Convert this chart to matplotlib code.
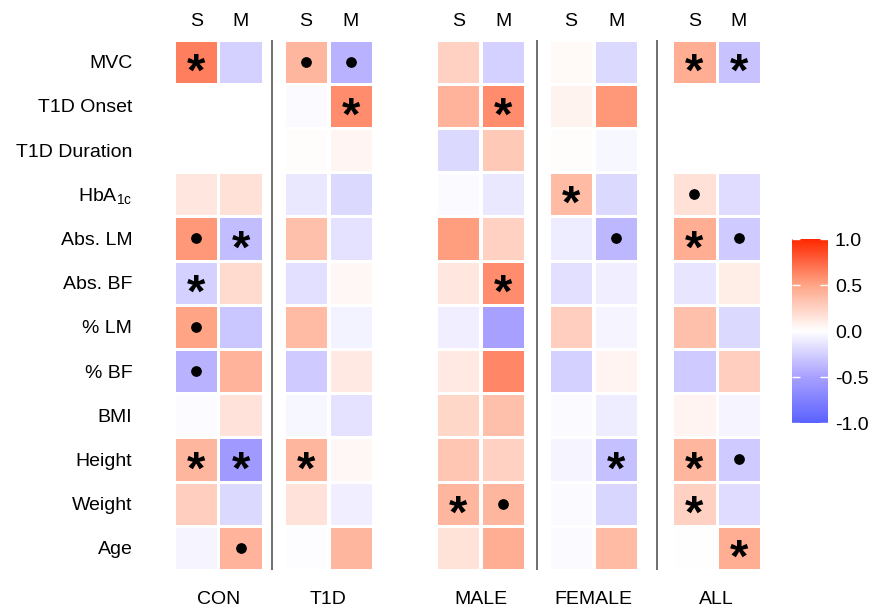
import numpy as np
import matplotlib
matplotlib.use("Agg")
import matplotlib.pyplot as plt
from matplotlib.colors import LinearSegmentedColormap, Normalize

plt.rcParams["font.family"] = ["Liberation Sans", "DejaVu Sans"]

rows = ["MVC", "T1D Onset", "T1D Duration", r"HbA$_{\mathregular{1c}}$", "Abs. LM", "Abs. BF",
        "% LM", "% BF", "BMI", "Height", "Weight", "Age"]
groups = ["CON", "T1D", "MALE", "FEMALE", "ALL"]
subcols = ["S", "M"]
nan = np.nan

# correlation values, columns: CON S/M, T1D S/M, MALE S/M, FEMALE S/M, ALL S/M
values = np.array([
    [0.65, -0.25, 0.40, -0.40, 0.25, -0.25, 0.03, -0.20, 0.45, -0.32],
    [nan, nan, -0.03, 0.60, 0.42, 0.60, 0.07, 0.55, nan, nan],
    [nan, nan, 0.01, 0.05, -0.20, 0.30, 0.01, -0.04, nan, nan],
    [0.14, 0.17, -0.12, -0.20, -0.03, -0.12, 0.38, -0.20, 0.17, -0.18],
    [0.55, -0.35, 0.35, -0.15, 0.53, 0.25, -0.10, -0.38, 0.45, -0.28],
    [-0.25, 0.20, -0.16, 0.04, 0.14, 0.60, -0.17, -0.08, -0.14, 0.10],
    [0.50, -0.30, 0.38, -0.07, -0.08, -0.50, 0.27, -0.05, 0.35, -0.20],
    [-0.40, 0.42, -0.28, 0.12, 0.12, 0.62, -0.25, 0.06, -0.28, 0.27],
    [-0.02, 0.15, -0.04, -0.15, 0.22, 0.35, -0.03, -0.10, 0.06, -0.05],
    [0.40, -0.55, 0.40, 0.04, 0.32, 0.25, -0.05, -0.33, 0.40, -0.28],
    [0.27, -0.20, 0.15, -0.08, 0.40, 0.40, -0.03, -0.22, 0.25, -0.18],
    [-0.05, 0.42, -0.01, 0.40, 0.16, 0.45, -0.03, 0.38, 0.00, 0.45],
])

# significance: "*" p<0.05, "." trend
signif = [
    ["*", "", ".", ".", "", "", "", "", "*", "*"],
    ["", "", "", "*", "", "*", "", "", "", ""],
    ["", "", "", "", "", "", "", "", "", ""],
    ["", "", "", "", "", "", "*", "", ".", ""],
    [".", "*", "", "", "", "", "", ".", "*", "."],
    ["*", "", "", "", "", "*", "", "", "", ""],
    [".", "", "", "", "", "", "", "", "", ""],
    [".", "", "", "", "", "", "", "", "", ""],
    ["", "", "", "", "", "", "", "", "", ""],
    ["*", "*", "*", "", "", "", "", "*", "*", "."],
    ["", "", "", "", "*", ".", "", "", "*", ""],
    ["", ".", "", "", "", "", "", "", "", "*"],
]

# layout: column centres with gaps between groups, separators
xpos = [0, 1, 2.47, 3.48, 5.89, 6.9, 8.43, 9.44, 11.2, 12.2]
seps = [1.704, 7.66, 10.36]

cmap = LinearSegmentedColormap.from_list("rwb", [
    (0.0, (90/255, 98/255, 1.0)),
    (0.25, (168/255, 160/255, 1.0)),
    (0.5, (1.0, 1.0, 1.0)),
    (0.75, (1.0, 165/255, 135/255)),
    (1.0, (1.0, 40/255, 0.0)),
])
norm = Normalize(-1, 1)

W, H = 873, 610
fig = plt.figure(figsize=(W / 100, H / 100), dpi=100)
ax = fig.add_axes([174 / W, 1 - 570 / H, 587 / W, 530.5 / H])

ny = len(rows)
yedges = np.arange(ny + 1) - 0.5
for j, x in enumerate(xpos):
    col = np.ma.masked_invalid(values[:, j:j + 1])
    ax.pcolormesh([x - 0.5, x + 0.5], yedges, col, cmap=cmap, norm=norm,
                  edgecolors="white", linewidth=1.0)
    for i in range(ny):
        s = signif[i][j]
        if s == "*":
            ax.text(x, i + 0.27, "*", ha="center", va="center", fontsize=34,
                    fontweight="bold", color="black")
        elif s == ".":
            ax.scatter([x], [i], s=45, color="black", zorder=3)

for sx in seps:
    ax.plot([sx, sx], [-0.5, ny - 0.5], color="#555555", linewidth=1.2)

fs = 14
ax.set_xlim(-0.5, 12.7)
ax.set_ylim(ny - 0.5, -0.5)
ax.set_yticks(range(ny))
ax.set_yticklabels(rows, fontsize=fs)
ax.tick_params(axis="y", length=0, pad=30)
ax.xaxis.tick_top()
ax.set_xticks(xpos)
ax.set_xticklabels(subcols * len(groups), fontsize=fs)
ax.tick_params(axis="x", length=0, pad=7)
for sp in ax.spines.values():
    sp.set_visible(False)

centers = [(xpos[2 * k] + xpos[2 * k + 1]) / 2 for k in range(len(groups))]
sec = ax.secondary_xaxis("bottom")
sec.set_xticks(centers)
sec.set_xticklabels(groups, fontsize=fs)
sec.tick_params(length=0, pad=15)
for sp in sec.spines.values():
    sp.set_visible(False)

cax = fig.add_axes([792 / W, 1 - 423 / H, 36 / W, 184 / H])
sm = plt.cm.ScalarMappable(norm=norm, cmap=cmap)
cb = fig.colorbar(sm, cax=cax)
cb.set_ticks([1.0, 0.5, 0.0, -0.5, -1.0])
cb.set_ticklabels(["1.0", "0.5", "0.0", "-0.5", "-1.0"])
cb.outline.set_visible(False)
cax.tick_params(direction="in", color="white", length=6, width=1, left=True, right=True,
                labelsize=fs, pad=5)

fig.savefig("out.png", dpi=100, facecolor="white")
